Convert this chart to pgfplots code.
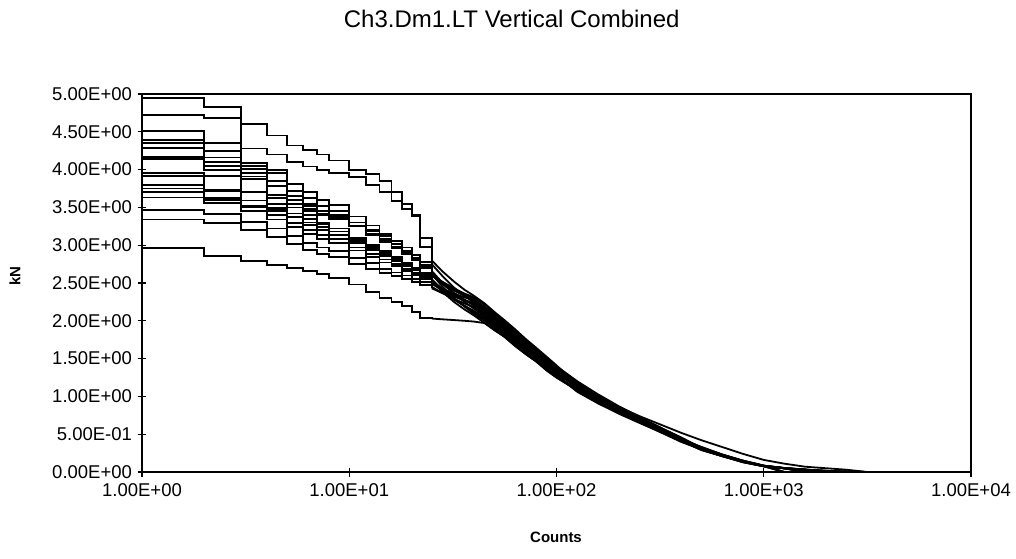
\documentclass[border=0pt]{standalone}
\usepackage{fontspec}
\setmainfont{Liberation Sans}
\usepackage{pgfplots}
\usepackage{pgfplotstable}
\pgfplotsset{compat=1.18}

% ranks 1..25: early (stepped) part of the 17 exceedance curves
\pgfplotstableread{
r c1 c2 c3 c4 c5 c6 c7 c8 c9 c10 c11 c12 c13 c14 c15 c16 c17
1 4.95 4.72 4.51 4.39 4.35 4.29 4.17 4.14 3.95 3.92 3.80 3.75 3.70 3.63 3.47 3.34 2.96
2 4.83 4.68 4.35 4.25 4.00 4.16 4.05 4.10 3.92 3.60 3.71 3.73 3.62 3.56 3.41 3.29 2.86
3 3.70 4.60 4.28 4.09 3.96 4.01 3.91 4.05 3.88 3.52 3.59 3.70 3.51 3.45 3.31 3.20 2.79
4 3.62 4.45 4.20 3.95 3.85 3.55 3.78 4.00 3.50 3.45 3.48 3.66 3.40 3.34 3.22 3.11 2.74
5 3.55 4.32 4.10 3.81 3.72 3.50 3.65 3.60 3.42 3.38 3.37 3.60 3.29 3.24 3.12 3.02 2.70
6 3.48 4.26 4.04 3.70 3.62 3.45 3.54 3.52 3.35 3.30 3.27 3.40 3.20 3.15 3.03 2.94 2.66
7 3.42 4.20 4.00 3.60 3.52 3.40 3.45 3.45 3.28 3.24 3.20 3.30 3.13 3.08 2.97 2.88 2.62
8 3.36 4.12 3.96 3.53 3.45 3.35 3.39 3.40 3.22 3.18 3.14 3.22 3.08 3.03 2.92 2.84 2.57
10 3.25 4.00 3.90 3.38 3.30 3.25 3.25 3.30 3.10 3.06 3.03 3.08 2.97 2.93 2.83 2.75 2.48
12 3.15 3.94 3.80 3.26 3.18 3.15 3.14 3.20 3.00 2.96 2.94 2.98 2.88 2.84 2.76 2.68 2.38
14 3.05 3.85 3.70 3.15 3.08 3.06 3.04 3.12 2.92 2.88 2.86 2.90 2.81 2.77 2.69 2.63 2.30
16 2.98 3.70 3.58 3.06 2.98 2.98 2.96 3.02 2.84 2.80 2.79 2.82 2.75 2.72 2.64 2.59 2.25
18 2.90 3.55 3.48 2.97 2.90 2.90 2.88 2.92 2.77 2.74 2.73 2.75 2.69 2.66 2.60 2.55 2.20
20 2.82 3.40 3.38 2.87 2.80 2.82 2.80 2.83 2.70 2.67 2.67 2.68 2.63 2.61 2.55 2.51 2.12
22 2.72 2.98 3.10 2.78 2.70 2.73 2.72 2.74 2.63 2.60 2.61 2.60 2.58 2.55 2.51 2.47 2.04
25 2.60 2.80 2.75 2.66 2.60 2.62 2.61 2.62 2.55 2.52 2.53 2.50 2.51 2.49 2.45 2.43 2.03
}\headtab

% ranks 25..3162: converged tail of the same curves
\pgfplotstableread{
r c1 c2 c3 c4 c5 c6 c7 c8 c9 c10 c11 c12 c13 c14 c15 c16 c17
25 2.60 2.80 2.75 2.66 2.60 2.62 2.61 2.62 2.55 2.52 2.53 2.50 2.51 2.49 2.45 2.43 2.03
28 2.51 2.66 2.60 2.51 2.50 2.46 2.52 2.49 2.42 2.43 2.39 2.43 2.40 2.41 2.37 2.37 2.02
32 2.41 2.52 2.44 2.36 2.40 2.30 2.43 2.37 2.29 2.34 2.25 2.36 2.28 2.33 2.29 2.32 2.01
36 2.35 2.41 2.33 2.25 2.33 2.19 2.36 2.28 2.19 2.27 2.15 2.31 2.20 2.27 2.23 2.27 2.00
40 2.29 2.33 2.24 2.16 2.27 2.09 2.31 2.20 2.11 2.22 2.07 2.27 2.13 2.22 2.18 2.24 1.99
45 2.18 2.23 2.14 2.06 2.16 2.00 2.21 2.10 2.02 2.12 1.97 2.16 2.04 2.12 2.08 2.14 1.97
50 2.08 2.12 2.04 1.96 2.06 1.90 2.10 2.00 1.92 2.02 1.88 2.06 1.94 2.02 1.98 2.04 1.88
56 1.98 2.01 1.94 1.86 1.96 1.81 2.00 1.90 1.82 1.92 1.79 1.96 1.84 1.92 1.88 1.94 1.79
63 1.85 1.89 1.82 1.74 1.83 1.69 1.87 1.78 1.71 1.80 1.67 1.83 1.73 1.80 1.76 1.82 1.67
71 1.73 1.76 1.69 1.63 1.71 1.58 1.74 1.66 1.59 1.68 1.56 1.71 1.61 1.68 1.64 1.69 1.56
80 1.61 1.64 1.58 1.52 1.60 1.47 1.63 1.55 1.49 1.57 1.46 1.60 1.50 1.57 1.53 1.58 1.46
90 1.49 1.52 1.46 1.40 1.47 1.36 1.50 1.43 1.37 1.44 1.34 1.47 1.39 1.44 1.42 1.46 1.34
100 1.38 1.41 1.36 1.30 1.37 1.26 1.40 1.33 1.28 1.34 1.25 1.37 1.29 1.34 1.32 1.36 1.25
126 1.11 1.16 1.19 1.13 1.17 1.10 1.20 1.15 1.06 1.12 1.08 1.18 1.07 1.14 1.11 1.13 1.08
158 0.95 1.00 1.02 0.97 1.01 0.94 1.03 0.99 0.91 0.96 0.93 1.01 0.92 0.98 0.95 0.97 0.93
200 0.80 0.84 0.86 0.82 0.86 0.80 0.87 0.84 0.77 0.81 0.79 0.85 0.78 0.83 0.80 0.82 0.79
251 0.68 0.71 0.72 0.69 0.74 0.67 0.73 0.70 0.65 0.68 0.66 0.72 0.66 0.70 0.68 0.69 0.66
316 0.55 0.58 0.59 0.56 0.63 0.54 0.59 0.57 0.53 0.55 0.54 0.58 0.53 0.57 0.55 0.56 0.54
398 0.42 0.44 0.45 0.43 0.52 0.42 0.46 0.44 0.40 0.43 0.41 0.45 0.41 0.43 0.42 0.43 0.41
501 0.31 0.31 0.32 0.30 0.42 0.29 0.32 0.30 0.30 0.32 0.29 0.31 0.31 0.33 0.30 0.33 0.30
631 0.22 0.22 0.22 0.21 0.33 0.21 0.23 0.22 0.21 0.23 0.21 0.22 0.22 0.23 0.22 0.23 0.21
794 0.14 0.14 0.14 0.14 0.24 0.13 0.15 0.14 0.13 0.14 0.13 0.14 0.14 0.15 0.14 0.15 0.14
1000 0.081 0.079 0.082 0.078 0.16 0.076 0.083 0.078 0.077 0.082 0.075 0.08 0.079 0.084 0.078 0.085 0.078
1259 0.05 0.05 0.051 0.049 0.11 0 0.052 0.049 0.048 0.052 0 0.05 0.05 0.053 0.049 0 0.049
1585 0.03 0.03 0.031 0 0.07 nan 0.031 0 0.029 0.031 nan 0 0.03 0.032 0 nan 0.029
1995 0 0.015 0.015 nan 0.05 nan 0.016 nan 0.014 0 nan nan 0 0.016 nan nan 0
2512 nan 0 0.008 nan 0.03 nan 0 nan 0.008 nan nan nan nan 0 nan nan nan
3162 nan nan 0 nan 0 nan nan nan 0 nan nan nan nan nan nan nan nan
}\tailtab

\begin{document}
\begin{tikzpicture}
\useasboundingbox (-142pt,-86pt) rectangle (874pt,472pt);
\begin{axis}[
  at={(0pt,0pt)}, anchor=south west,
  scale only axis, width=829pt, height=378pt,
  xmode=log, xmin=1, xmax=10000, ymin=0, ymax=5,
  xtick={1,10,100,1000,10000},
  xticklabels={1.00E+00,1.00E+01,1.00E+02,1.00E+03,1.00E+04},
  ytick={0,0.5,1,1.5,2,2.5,3,3.5,4,4.5,5},
  yticklabels={0.00E+00,5.00E-01,1.00E+00,1.50E+00,2.00E+00,2.50E+00,3.00E+00,3.50E+00,4.00E+00,4.50E+00,5.00E+00},
  xminorticks=false, yminorticks=false,
  tick pos=left, tick align=center, major tick length=9pt,
  every tick/.style={black, line width=1.2pt},
  axis line style={line width=1.6pt},
  ticklabel style={font=\fontsize{18.5}{20}\selectfont},
  xticklabel style={yshift=-4pt},
  yticklabel style={xshift=-2pt},
  clip=true,
]
\pgfplotsinvokeforeach{1,...,17}{
  \addplot[const plot, black, line width=1.8pt, no marks] table[x=r, y=c#1] {\headtab};
  \addplot[sharp plot, black, line width=1.8pt, no marks, unbounded coords=discard] table[x=r, y=c#1] {\tailtab};
}
\end{axis}
\node[font=\fontsize{24}{28}\selectfont] at (369.7pt,453pt) {Ch3.Dm1.LT Vertical Combined};
\node[font=\bfseries\fontsize{15}{18}\selectfont] at (414pt,-65pt) {Counts};
\node[font=\bfseries\fontsize{15}{18}\selectfont, rotate=90] at (-127pt,196pt) {kN};
\end{tikzpicture}
\end{document}
